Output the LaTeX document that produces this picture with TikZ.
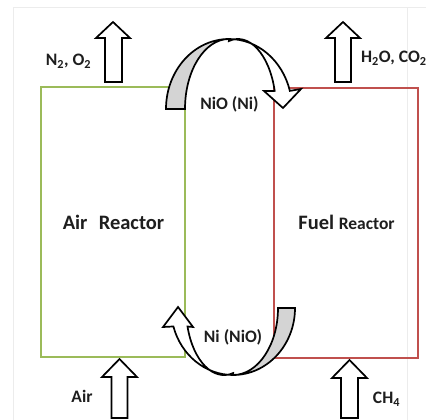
\documentclass[tikz,border=0pt]{standalone}
\usepackage{fontspec}
\setmainfont{Carlito}
\definecolor{airgreen}{RGB}{155,187,89}
\definecolor{fuelred}{RGB}{192,80,77}
\definecolor{ribgray}{RGB}{212,212,212}
\definecolor{txt}{RGB}{30,30,30}
\definecolor{faint}{RGB}{236,236,236}
\begin{document}
\begin{tikzpicture}[x=1pt,y=-1pt,
  lbl/.style={font=\fontsize{17.5}{20}\selectfont\bfseries, text=txt, inner sep=0pt},
  biglbl/.style={font=\fontsize{20.5}{24}\selectfont\bfseries, text=txt, inner sep=0pt},
  blockarrow/.style={draw=black, line width=1.7pt, fill=white, line join=miter},
  ribbonface/.style={draw=black, line width=1.7pt, fill=white, line join=miter},
  ribbonback/.style={draw=black, line width=1.7pt, fill=ribgray, line join=miter},
  reactorA/.style={draw=airgreen, line width=2pt, minimum width=144pt, minimum height=270pt, inner sep=0pt},
  reactorF/.style={draw=fuelred, line width=2pt, minimum width=144pt, minimum height=270pt, inner sep=0pt},
  frameline/.style={draw=faint, line width=0.8pt}]
\useasboundingbox (0,0) rectangle (426,420);
\draw[frameline] (13,420) -- (13,7) -- (426,7);
\draw[frameline] (407,7) -- (407,420);
% reactors
\node[reactorA] (air) at (113,222) {};
\node[reactorF] (fuel) at (346,223) {};
\node[biglbl] (airtxt) at (113.5,222) {Air\hspace{0.55em}Reactor};
\node[biglbl] (fueltxt) at (346.5,222) {Fuel {\fontsize{17.5}{20}\selectfont Reactor}};
% block arrows
\draw[blockarrow] (105,82) -- (105,38) -- (96,38) -- (113,22) -- (130,38) -- (122,38) -- (122,82) -- cycle;
\draw[blockarrow] (335,82) -- (335,38) -- (326,38) -- (343,22) -- (360,38) -- (351,38) -- (351,82) -- cycle;
\draw[blockarrow] (111.5,418) -- (111.5,377) -- (102,377) -- (119.5,359) -- (137,377) -- (127.5,377) -- (127.5,418) -- cycle;
\draw[blockarrow] (341,418) -- (341,378) -- (332,378) -- (349.5,360) -- (367,378) -- (358,378) -- (358,418) -- cycle;
% top curved arrow
\draw[ribbonface] (229,39) arc[start angle=270, end angle=345, x radius=63, y radius=70]
  -- (301,89) -- (283,108) -- (264,91) -- (274.7,90.9)
  arc[start angle=345, end angle=256, x radius=38, y radius=70] -- cycle;
\draw[ribbonback] (166,109) arc[start angle=180, end angle=270, x radius=63, y radius=70]
  arc[start angle=270, end angle=180, x radius=44, y radius=70] -- cycle;
% bottom curved arrow
\draw[ribbonface] (233,375) arc[start angle=90, end angle=164, x radius=62, y radius=67]
  -- (163,327) -- (178,307) -- (193,327) -- (187.5,326.5)
  arc[start angle=164, end angle=76, x radius=38, y radius=67] -- cycle;
\draw[ribbonback] (295,308) arc[start angle=0, end angle=90, x radius=62, y radius=67]
  arc[start angle=90, end angle=0, x radius=45, y radius=67] -- cycle;
% labels
\node[lbl] (n2o2) at (68.5,61) {N\textsubscript{2}, O\textsubscript{2}};
\node[lbl, anchor=west] (h2o) at (361,58) {H\textsubscript{2}O, CO\textsubscript{2}};
\node[lbl] (airlbl) at (82,396) {Air};
\node[lbl] (ch4) at (386.5,399) {CH\textsubscript{4}};
\node[lbl] (nio) at (229.5,104.5) {NiO (Ni)};
\node[lbl] (ni) at (233,337) {Ni (NiO)};
\end{tikzpicture}
\end{document}
